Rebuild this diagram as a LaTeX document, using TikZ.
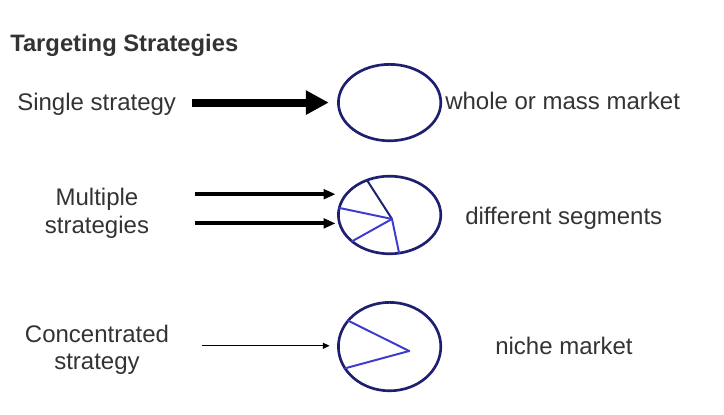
\documentclass[tikz,border=0pt]{standalone}
\usepackage{fontspec}
\setmainfont{Liberation Sans}
\usetikzlibrary{shapes.geometric,arrows.meta}

\begin{document}
\begin{tikzpicture}[x=1cm,y=1cm,font=\fontsize{17.07}{19.9}\selectfont,
    market/.style={draw=ring,ellipse,line width=1.9pt,inner sep=0pt,outer sep=0pt,
      minimum width=2.56cm},
    marktext/.style={anchor=base west,inner sep=0pt,text=ink},
    sidetext/.style={align=center,inner sep=0pt,text=ink},
    spokeline/.style={line width=1.4pt,line cap=round}]
  \definecolor{ink}{HTML}{333333}
  \definecolor{ring}{HTML}{1F1F70}
  \definecolor{spoke}{HTML}{3C3CCF}
  % title and left column
  \node[marktext,font=\fontsize{16.9}{19.9}\selectfont\bfseries] (title) at (0.25,9.075)
    {Targeting Strategies};
  \node[marktext] (single) at (0.425,7.6) {Single strategy};
  \node[sidetext] (multi) at (2.425,5.05) {Multiple\\strategies};
  \node[sidetext] (conc) at (2.425,1.63) {Concentrated\\strategy};
  % the three markets
  \node[market,minimum height=1.91cm] (mass) at (9.74,7.81) {};
  \node[market,minimum height=1.94cm] (seg) at (9.74,5.0) {};
  \node[market,minimum height=2.21cm] (niche) at (9.74,1.71) {};
  \coordinate (hubA) at ([shift={(0.06,-0.1)}]seg.center);
  \coordinate (hubB) at ([shift={(0.49,-0.11)}]niche.center);
  \foreach \ang/\col in {123/ring,172/spoke,215/spoke,284/spoke}{
    \draw[spokeline,\col] (hubA) -- (seg.\ang);
  }
  \foreach \ang in {148,206}{
    \draw[spokeline,spoke] (hubB) -- (niche.\ang);
  }
  % arrows
  \coordinate (srcA) at (4.8,7.81);
  \coordinate (srcB) at (4.875,5.52);
  \coordinate (srcC) at (4.875,4.79);
  \coordinate (srcD) at (5.05,1.73);
  \draw[line width=0.2cm,-{Triangle[length=0.575cm,width=0.575cm]},shorten >=0.24cm]
    (srcA) -- (srcA -| mass.west);
  \foreach \src in {srcB,srcC}{
    \draw[line width=0.1cm,-{Triangle[length=0.3cm,width=0.24cm]},shorten >=0.07cm]
      (\src) -- (\src -| seg.west);
  }
  \draw[line width=0.9pt,-{Triangle[length=0.17cm,width=0.15cm]},shorten >=0.22cm]
    (srcD) -- (srcD -| niche.west);
  % right column
  \node[marktext] (wholetext) at (11.125,7.625) {whole or mass market};
  \node[marktext] (segtext) at (11.625,4.75) {different segments};
  \node[marktext] (nichetext) at (12.375,1.5) {niche market};
  \path[use as bounding box] (0,0) rectangle (18.1,10.375);
\end{tikzpicture}
\end{document}
